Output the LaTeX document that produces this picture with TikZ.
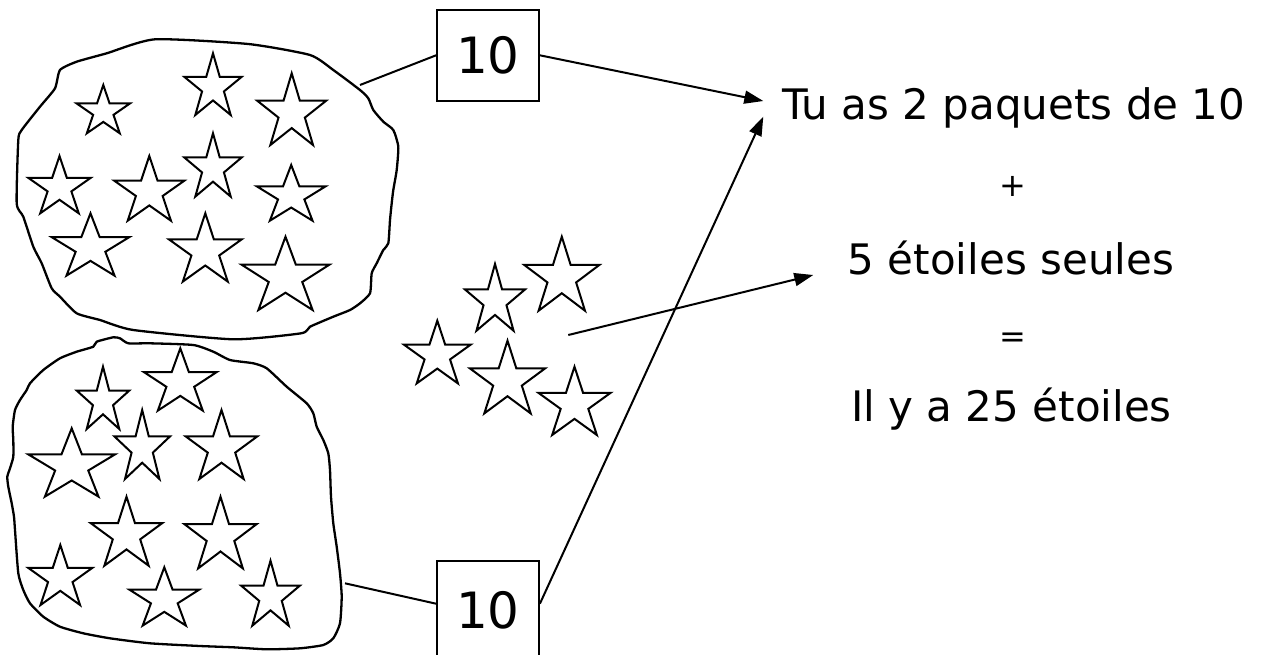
\documentclass[tikz,border=0pt]{standalone}
\usepackage{fontspec}
\setmainfont{DejaVu Sans}
\usetikzlibrary{arrows.meta}
\tikzset{
  starline/.style={line width=2pt, line join=miter},
  blobline/.style={line width=2.3pt, line join=round},
  link/.style={line width=2pt},
  arrowlink/.style={line width=2pt, -{Triangle[length=19pt,width=13pt]}},
  numbox/.style={draw, line width=1.8pt, minimum width=102pt, inner sep=0pt,
    font=\fontsize{50}{50}\selectfont},
  txt/.style={font=\fontsize{42}{42}\selectfont, inner sep=0pt},
  sym/.style={font=\fontsize{32}{32}\selectfont, inner sep=0pt},
}
\newcommand\drawetoile[4]{%
  \begin{scope}[shift={(#1,#2)},xscale=#3/1.902,yscale=#4/1.809]
    \draw[starline] (0,0) -- (0.2245,0.691) -- (0.951,0.691) -- (0.3633,1.118)
      -- (0.5878,1.809) -- (0,1.382) -- (-0.5878,1.809) -- (-0.3633,1.118)
      -- (-0.951,0.691) -- (-0.2245,0.691) -- cycle;
  \end{scope}}
\begin{document}
\begin{tikzpicture}[x=1pt,y=-1pt]
\useasboundingbox (0,0) rectangle (1269,654);
\fill[white] (0,0) rectangle (1269,654);

% top blob
\draw[blobline] plot[smooth cycle, tension=0.35] coordinates {
 (106.7,53.3) (155,39.3) (248.3,44) (310,55) (333.3,70) (360,90) (368.3,98.3)
 (373.3,110) (383.3,121.7) (393.3,130) (398.3,146.7) (396.7,170) (393.3,190)
 (391.7,203.3) (390,220) (388.3,243.3) (383.3,250) (376.7,263.3) (371.7,273.3)
 (370,293.3) (360,303.3) (350,310) (333.3,316.7) (310,326.7) (301,333.3)
 (233.3,339.3) (133.3,330) (100,320) (76.7,313.3) (60,296.7) (51.7,288.3)
 (41.7,263.3) (33.3,246.7) (23.3,216.7) (16.7,203.3) (18.3,140) (21.7,130)
 (40,106.7) (55,88.3) (60,70) (76.7,61.7)};

% bottom blob
\draw[blobline] plot[smooth cycle, tension=0.35] coordinates {
 (93.3,346.7) (96.7,341.7) (113.3,337.3) (120,338.3) (128.3,343.3) (150,343.3)
 (193.3,345) (213.3,351.7) (230,360) (253.3,363.3) (266.7,368.3) (286.7,386.7)
 (306.7,403.3) (313.3,413.3) (316.7,426.7) (323.3,440) (328.3,453.3) (330,470)
 (331,496.7) (333.3,523.3) (336.7,546.7) (340,573.3) (341.7,596.7) (340,623.3)
 (333.3,638.3) (323.3,645) (300,648.3) (266.7,649.3) (233.3,647.3) (200,646)
 (150,643.3) (110,638.3) (83.3,633.3) (60,626.7) (43.3,616.7) (30,603.3)
 (23.3,590) (18.3,573.3) (15,530) (14,516.7) (11.7,503.3) (8.3,486.7)
 (7.3,476.7) (10,468.3) (13.3,456.7) (13.3,440) (12.7,426.7) (15,410) (20,400)
 (26.7,390) (30,383.3) (43.3,370) (60,358.3) (76.7,351.7)};

% stars
\foreach \a/\b/\c/\d in {
  103.3/85/53.3/48.3, 213/53.3/57.3/61.7, 291.7/73.3/69/71.7,
  59.5/156/62.3/57.3, 149.3/156/70/64.7, 213/133.3/57.3/63.3,
  291.2/165/69/55.7, 90.5/213.3/77.7/62.3, 205.3/213.3/72.7/68.3,
  285.5/236.7/87.7/73.3,
  103/366.7/52.7/62.3, 180.3/348.3/72.7/62.3, 71.7/428.3/86.7/68.3,
  142.2/410/55.7/69, 221.5/410/71.7/69, 126.5/496.7/71.7/69,
  220.5/496.7/72.3/71.7, 60.3/545/64/60, 164.3/567.3/70/58.3,
  270.5/560.7/59/65,
  561.8/236.7/75/74, 495/264/60/66.7, 437.3/320.7/66.7/62.7,
  507.5/340.7/75/72.7, 574.5/366.7/72.3/68.3}
  {\drawetoile{\a}{\b}{\c}{\d}}

% boxes
\node[numbox, minimum height=90.7pt] (b1) at (488,55.3) {10};
\node[numbox, minimum height=100pt] (b2) at (488,610.7) {10};

% texts
\node[txt, anchor=base] (t1) at (1014,119) {Tu as 2 paquets de 10};
\node[sym] (plus) at (1013,186.7) {+};
\node[txt, anchor=base] (t2) at (1011,274) {5 étoiles seules};
\node[sym] (eq) at (1013,340) {=};
\node[txt, anchor=base] (t3) at (1011.5,421) {Il y a 25 étoiles};

% connector ends
\coordinate (e1) at (360,85);
\coordinate (e2) at (345,583.3);
\coordinate (m1) at (568.3,335);
\coordinate (a1) at (763.3,101);
\coordinate (a2) at (763.3,116.7);
\coordinate (a3) at (813.3,275);

\draw[link] (e1) -- (b1.west);
\draw[link] (e2) -- ([yshift=7pt]b2.west);
\draw[arrowlink] (b1.east) -- (a1);
\draw[arrowlink] ([yshift=7pt]b2.east) -- (a2);
\draw[arrowlink] (m1) -- (a3);
\end{tikzpicture}
\end{document}
